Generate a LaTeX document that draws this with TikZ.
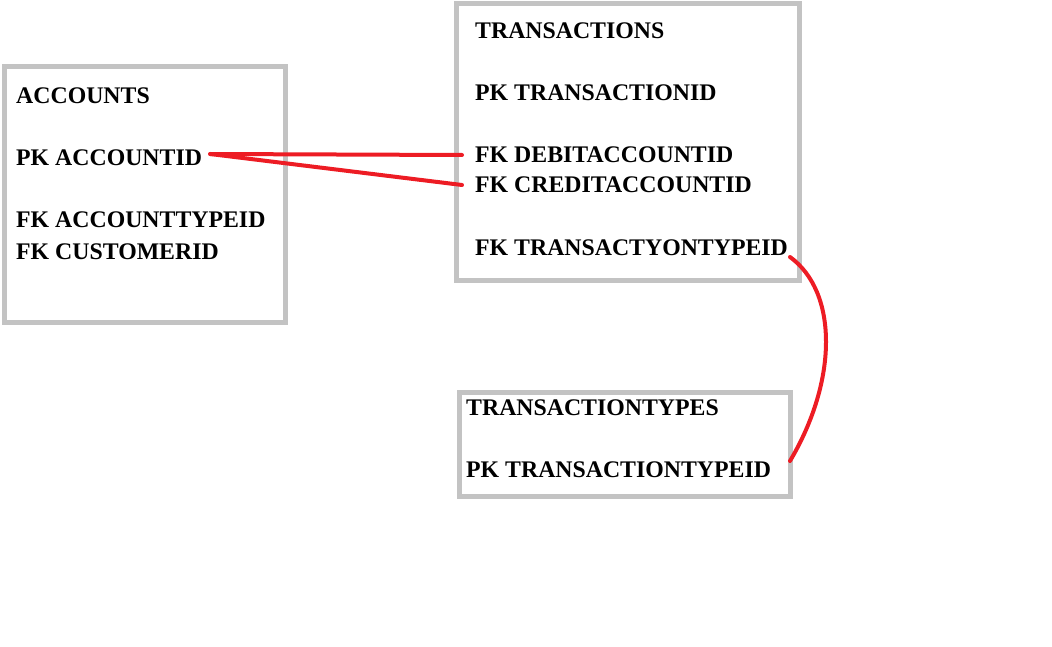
\documentclass[tikz,border=0pt]{standalone}
\usepackage{fontspec}
\setmainfont{Liberation Serif}
\definecolor{boxgray}{HTML}{C3C3C3}
\definecolor{linkred}{HTML}{ED1C24}
\begin{document}
\begin{tikzpicture}[x=1pt,y=-1pt,
  tablebox/.style={draw=boxgray,line width=5pt},
  field/.style={anchor=base west,inner sep=0pt,font=\fontsize{23.8}{24}\selectfont\bfseries},
  link/.style={draw=linkred,line width=4pt,line cap=round}]
\useasboundingbox (0,0) rectangle (1052,647);
% boxes
\draw[tablebox] (4.5,66.5) rectangle (285.5,322.5);
\draw[tablebox] (456.5,4) rectangle (799,280.8);
\draw[tablebox] (459.8,392.5) rectangle (790.8,496.5);
% ACCOUNTS
\node[field] (acc) at (16,104) {ACCOUNTS};
\node[field] (accid) at (16,166) {PK ACCOUNTID};
\node[field] (acctype) at (16,228) {FK ACCOUNTTYPEID};
\node[field] (cust) at (16,259) {FK CUSTOMERID};
% TRANSACTIONS
\node[field] (tr) at (475,39) {TRANSACTIONS};
\node[field] (trid) at (475,101) {PK TRANSACTIONID};
\node[field] (deb) at (475,163) {FK DEBITACCOUNTID};
\node[field] (cred) at (475,193) {FK CREDITACCOUNTID};
\node[field] (trtype) at (475,255) {FK TRANSACTYONTYPEID};
% TRANSACTIONTYPES
\node[field] (tt) at (466,415) {TRANSACTIONTYPES};
\node[field] (ttid) at (466,477) {PK TRANSACTIONTYPEID};
% connector end points
\coordinate (a1) at ([xshift=8pt,yshift=12pt]accid.base east);
\coordinate (d1) at ([xshift=-13pt,yshift=8pt]deb.base west);
\coordinate (c1) at ([xshift=-13pt,yshift=8pt]cred.base west);
\coordinate (t1) at (790,257);
\coordinate (t2) at (790,461);
\draw[link] (a1) -- (d1);
\draw[link] (a1) -- (c1);
\draw[link] (t1) .. controls (838,292) and (838,380) .. (t2);
\end{tikzpicture}
\end{document}
